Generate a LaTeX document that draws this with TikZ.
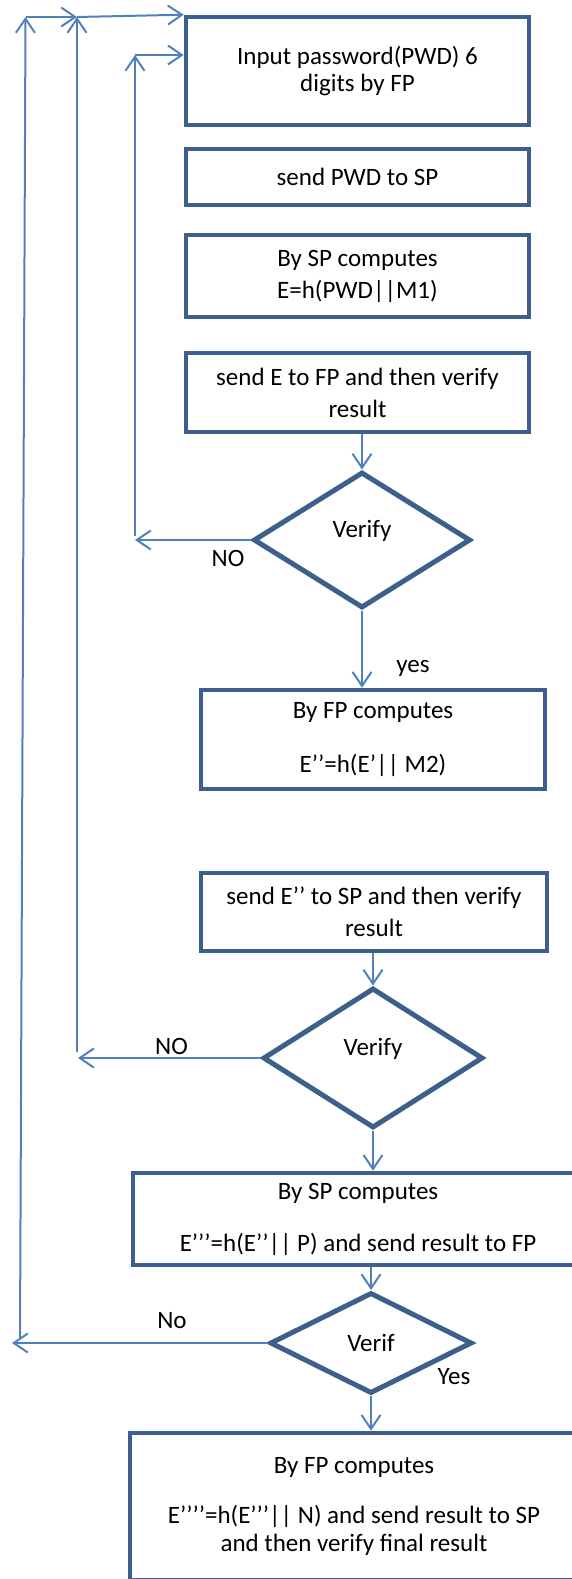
\documentclass[tikz,border=0pt]{standalone}
\usepackage{fontspec}
\setmainfont{Carlito}
\usetikzlibrary{arrows.meta,shapes.geometric}
\definecolor{boxblue}{HTML}{3C5F8C}
\definecolor{arrowblue}{HTML}{5080BE}

\begin{document}
\begin{tikzpicture}[x=0.5pt,y=-0.5pt]
\tikzset{every node/.style={font=\fontsize{12.5}{16}\selectfont}}
\tikzset{proc/.style={draw=boxblue,line width=2.3pt,align=center,inner sep=0pt}}
\tikzset{decide/.style={diamond,draw=boxblue,line width=2.5pt,inner sep=0pt}}
\tikzset{flow/.style={draw=arrowblue,line width=1pt,-{Straight Barb[length=7pt,width=9.5pt]}}}
\tikzset{lbl/.style={inner sep=0pt}}

\useasboundingbox (0,0) rectangle (572,1579);

% process boxes
\node[proc,minimum width=171.5pt,minimum height=54pt] (pwd) at (357.5,71) {Input password(PWD) 6\\[-2.5pt]digits by FP};
\node[proc,minimum width=171.5pt,minimum height=28pt] (sendpwd) at (357.5,177) {send PWD to SP};
\node[proc,minimum width=171.5pt,minimum height=41pt] (spcomp) at (357.5,276) {By SP computes\\E=h(PWD||M1)};
\node[proc,minimum width=171.5pt,minimum height=39.5pt] (sende) at (357.5,392.5) {send E to FP and then verify\\result};
\node[proc,minimum width=172pt,minimum height=49.5pt] (fpcomp) at (373,739.5) {By FP computes\\[11pt]E’’=h(E’|| M2)};
\node[proc,minimum width=173pt,minimum height=39pt] (sendee) at (374,912) {send E’’ to SP and then verify\\result};
\node[proc,minimum width=225pt,minimum height=46pt] (spcomp2) at (358,1219) {By SP computes\\[10pt]E’’’=h(E’’|| P) and send result to FP};
\node[proc,minimum width=224pt,minimum height=73.5pt] (fpcomp2) at (354,1506.5) {By FP computes\\[9pt]E’’’’=h(E’’’|| N) and send result to SP\\[-2pt]and then verify final result};

% decisions
\node[decide,minimum width=108.5pt,minimum height=68pt,text depth=11pt] (ver1) at (362,540) {Verify};
\node[decide,minimum width=110pt,minimum height=70pt,text depth=11pt] (ver2) at (373,1058) {Verify};
\node[decide,minimum width=101pt,minimum height=50.5pt] (ver3) at (371,1343) {Verif};

% main flow
\draw[flow] (sende.south -| ver1.north) -- (ver1.north);
\draw[flow] (ver1.south) -- (ver1.south |- fpcomp.north);
\draw[flow] (sendee.south -| ver2.north) -- (ver2.north);
\draw[flow] (ver2.south) -- (ver2.south |- spcomp2.north);
\draw[flow] (spcomp2.south -| ver3.north) -- (ver3.north);
\draw[flow] (ver3.south) -- (ver3.south |- fpcomp2.north);

% loop back points
\coordinate (in1) at (135,540);
\coordinate (up1) at (135,536);
\coordinate (top1) at (135,55);
\coordinate (in2) at (78,1058);
\coordinate (up2) at (77,1052);
\coordinate (top2) at (77,17);
\coordinate (in3) at (12,1343);
\coordinate (up3) at (20,1339);
\coordinate (top3) at (25.5,17);

\draw[flow] (ver1.west) -- (in1);
\draw[flow] (up1) -- (top1);
\draw[flow] (top1) -- (top1 -| pwd.west);

\draw[flow] (ver2.west) -- (in2);
\draw[flow] (up2) -- (top2);
\draw[flow] (top2) -- (pwd.north west);

\draw[flow] (ver3.west) -- (in3);
\draw[flow] (up3) -- (top3);
\draw[flow] (top3) -- (top2);

% branch labels
\node[lbl] (no1) at (228,558) {NO};
\node[lbl] (yes1) at (413,668) {yes};
\node[lbl] (no2) at (171.5,1046) {NO};
\node[lbl] (no3) at (172,1321) {No};
\node[lbl] (yes3) at (454,1377) {Yes};

\end{tikzpicture}
\end{document}
